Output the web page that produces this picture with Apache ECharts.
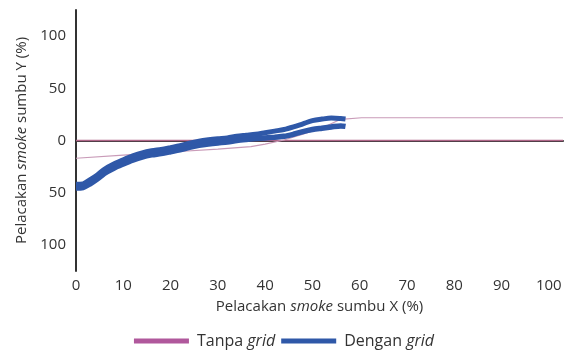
<!DOCTYPE html>
<html><head><meta charset="utf-8">
<script src="https://cdn.jsdelivr.net/npm/echarts@6/dist/echarts.min.js"></script>
<style>html,body{margin:0;padding:0;background:#fff}#c{width:568px;height:354px}</style>
</head><body><div id="c"></div>
<script>
// Tick labels
const xTicks = [0,10,20,30,40,50,60,70,80,90,100];
const yTicks = [100,50,0,-50,-100];

// Tanpa grid (without grid)
const tanpaX = [0, 10, 20, 30, 37, 40, 44, 48, 52, 56, 60.4, 103];
const tanpaY = [-17, -14, -11, -8.3, -5.9, -3.5, 0.5, 6, 12, 20.3, 21.8, 21.8];
const zeroX = [0, 103];
const zeroY = [0, 0];

// Dengan grid (with grid) – upper and lower traces
const dgX = [0, 1.5, 3, 4.5, 6, 8, 10, 12, 14, 16, 18, 20, 22, 24, 26, 28, 30, 32, 34, 36, 38, 40, 42, 44, 46, 48, 50, 52, 54, 56, 57];
const dgUpper = [-42, -41.5, -37.5, -33, -27.5, -22.5, -18.5, -14.8, -11.8, -9.8, -8.5, -6.8, -5, -2.5, -0.6, 0.7, 1.7, 2.5, 4, 5, 6, 7.5, 9, 10.5, 13, 16, 19, 20.5, 21.5, 21, 20.5];
const dgLower = [-45.5, -45, -41.5, -37, -31.5, -26.5, -22.5, -18.8, -15.8, -13.8, -12.5, -10.8, -9, -6.5, -4.6, -3.3, -2.3, -1.5, 0, 1, 1.8, 2.5, 3.2, 4, 6, 8.5, 10.5, 11.8, 13, 14, 13.5];

const pair = (xs, ys) => xs.map((x, i) => [x, ys[i]]);

const FONT = 'Open Sans';
const TXT = '#333';
const chart = echarts.init(document.getElementById('c'), null, {renderer: 'canvas'});
chart.setOption({
  animation: false,
  textStyle: {fontFamily: FONT},
  grid: {left: 76, right: 5, top: 10, height: 261},
  xAxis: {
    type: 'value', min: 0, max: 103, interval: 10,
    axisLine: {show: true, lineStyle: {color: '#333', width: 2}},
    axisTick: {show: false},
    splitLine: {show: false},
    axisLabel: {
      color: TXT, fontSize: 15, margin: 7, fontFamily: FONT,
      formatter: v => xTicks.includes(v) ? String(v) : ''
    },
    name: 'Pelacakan {i|smoke} sumbu X (%)',
    nameLocation: 'middle', nameGap: 28,
    nameTextStyle: {color: TXT, fontSize: 15, fontFamily: FONT,
      rich: {i: {fontStyle: 'italic', fontSize: 15, color: TXT, fontFamily: FONT}}}
  },
  yAxis: {
    type: 'value', min: -125, max: 125, interval: 25,
    axisLine: {show: true, lineStyle: {color: '#333', width: 2}},
    axisTick: {show: false},
    splitLine: {show: false},
    axisLabel: {
      color: TXT, fontSize: 15, margin: 10, fontFamily: FONT,
      formatter: v => yTicks.includes(v) ? String(Math.abs(v)) : ''
    },
    name: 'Pelacakan {i|smoke} sumbu Y (%)',
    nameLocation: 'middle', nameGap: 44, nameRotate: 90,
    nameTextStyle: {color: TXT, fontSize: 15, fontFamily: FONT,
      rich: {i: {fontStyle: 'italic', fontSize: 15, color: TXT, fontFamily: FONT}}}
  },
  legend: {
    bottom: 0, left: 'center',
    icon: 'rect', itemWidth: 55, itemHeight: 5, itemGap: 6,
    data: ['Tanpa grid', 'Dengan grid'],
    formatter: n => n.replace('grid', '{i|grid}'),
    textStyle: {color: TXT, fontSize: 16, fontFamily: FONT, padding: [0, 0, 0, 3],
      rich: {i: {fontStyle: 'italic', fontSize: 16, color: TXT, fontFamily: FONT}}}
  },
  series: [
    {name: 'Tanpa grid', type: 'line', data: pair(zeroX, zeroY), symbol: 'none',
      itemStyle: {color: '#b0589c'}, lineStyle: {color: '#b06688', width: 1.6}, z: 2},
    {name: 'Tanpa grid', type: 'line', data: pair(tanpaX, tanpaY), symbol: 'none',
      itemStyle: {color: '#b0589c'}, lineStyle: {color: '#c99bb8', width: 1.2}, z: 2},
    {name: 'Dengan grid', type: 'line', data: pair(dgX, dgLower), symbol: 'none', smooth: 0.3,
      itemStyle: {color: '#2f58a8'}, lineStyle: {color: '#2f58a8', width: 5.5}, z: 3},
    {name: 'Dengan grid', type: 'line', data: pair(dgX, dgUpper), symbol: 'none', smooth: 0.3,
      itemStyle: {color: '#2f58a8'}, lineStyle: {color: '#2f58a8', width: 5}, z: 3}
  ]
});
</script></body></html>
